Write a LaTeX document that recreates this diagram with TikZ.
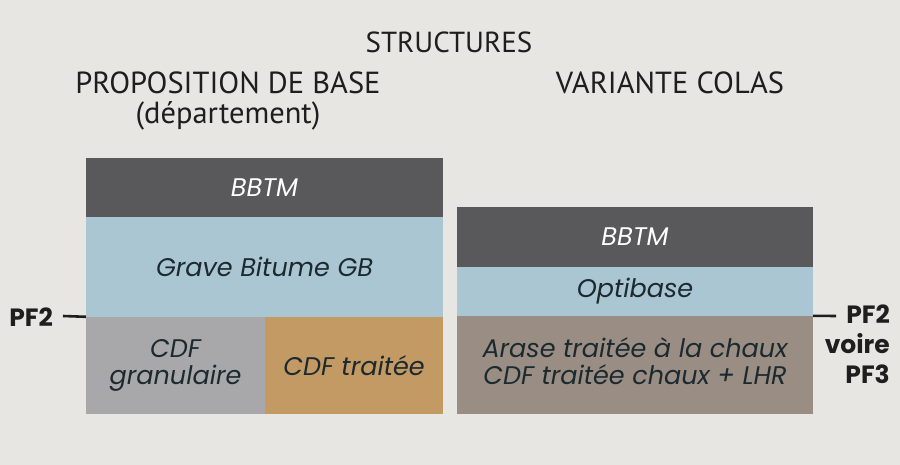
\documentclass[tikz,border=0pt]{standalone}
\usepackage{fontspec}
\setmainfont{PT Sans}
\newfontfamily\headfont{PT Sans}
\newfontfamily\boxfont{Poppins}
\newfontfamily\pffont{Poppins}
\definecolor{bg}{HTML}{E8E6E2}
\definecolor{dark}{HTML}{59595B}
\definecolor{lblue}{HTML}{A9C6D2}
\definecolor{lgrey}{HTML}{A8A8AA}
\definecolor{ochre}{HTML}{C49A64}
\definecolor{taupe}{HTML}{9A8E84}
\definecolor{ink}{HTML}{1C2A30}
\definecolor{txt}{HTML}{1E1E1E}
\tikzset{
  layer/.style={draw=none, inner sep=0pt, align=center, text=ink,
    font=\boxfont\itshape\fontsize{25.5}{28}\selectfont},
  head/.style={inner sep=0pt, anchor=base, text=txt, font=\headfont\fontsize{30.5}{34}\selectfont, align=center},
  pf/.style={inner sep=0pt, text=txt, font=\pffont\bfseries\fontsize{25}{29.7}\selectfont},
  tick/.style={line width=2.6pt, txt}
}
\begin{document}
\begin{tikzpicture}[x=1pt,y=-1pt]
\fill[bg] (0,0) rectangle (900,465);
\useasboundingbox (0,0) rectangle (900,465);
% headings
\node[head, font=\headfont\fontsize{29}{34}\selectfont] (title) at (449,53) {STRUCTURES};
\node[head] (propo) at (228,94) {PROPOSITION DE BASE};
\node[head] (dept) at (228,123.5) {(département)};
\node[head] (vari) at (670,94) {VARIANTE COLAS};
% left stack
\node[layer, fill=dark, text=white, minimum width=357pt, minimum height=59pt] (bbtmL) at (264.5,187.5) {BBTM};
\node[layer, fill=lblue, minimum width=357pt, minimum height=100pt] (gbL) at (264.5,267) {Grave Bitume GB};
\node[layer, fill=lgrey, minimum width=179pt, minimum height=97pt] (granL) at (175.5,365.5) {\raisebox{-3pt}{\begin{tabular}{@{}c@{}}CDF\\[-1pt]granulaire\end{tabular}}};
\node[layer, fill=ochre, minimum width=178pt, minimum height=97pt] (traiteeL) at (354,365.5) {CDF traitée};
% right stack
\node[layer, fill=dark, text=white, minimum width=356pt, minimum height=60pt] (bbtmR) at (635,237) {BBTM};
\node[layer, fill=lblue, minimum width=356pt, minimum height=49pt] (optiR) at (635,291.5) {Optibase};
\node[layer, fill=taupe, minimum width=356pt, minimum height=98pt] (araseR) at (635,365) {\raisebox{-3pt}{\begin{tabular}{@{}c@{}}Arase traitée à la chaux\\[-1pt]CDF traitée chaux + LHR\end{tabular}}};
% PF labels
\node[pf, anchor=east] (pfL) at (53,317) {PF2};
\coordinate (tl) at (63,316);
\draw[tick] (tl) -- (granL.north west);
\coordinate (tr) at (836,316);
\draw[tick] (araseR.north east) -- (tr);
\node[pf, anchor=north east, align=right] (pfR) at (890,305) {PF2\\voire\\PF3};
\end{tikzpicture}
\end{document}
